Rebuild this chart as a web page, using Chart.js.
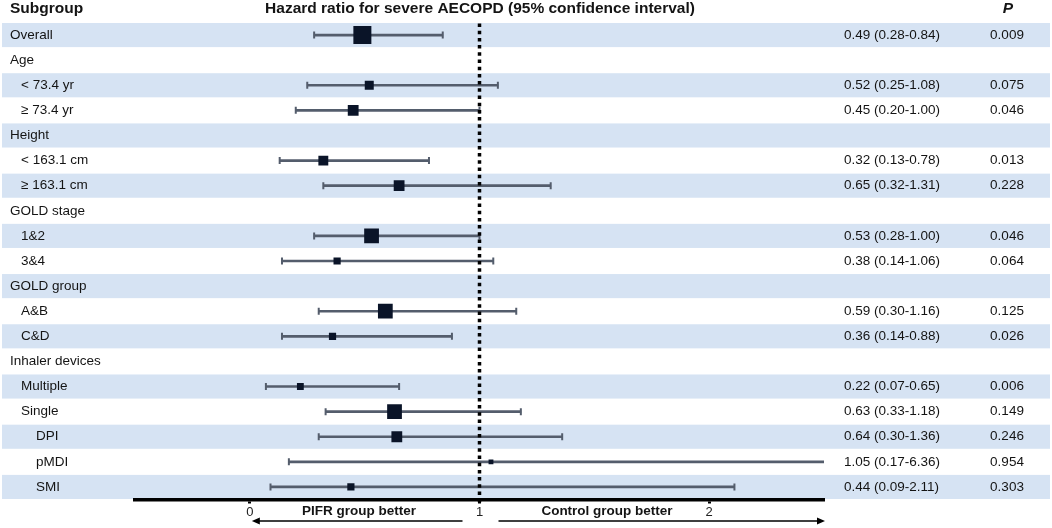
<!DOCTYPE html>
<html>
<head>
<meta charset="utf-8">
<script src="https://cdn.jsdelivr.net/npm/chart.js@4.4.1/dist/chart.umd.min.js"></script>
<style>
  html, body { margin: 0; padding: 0; background: #fff; }
  #wrap { width: 1052px; height: 528px; position: relative; }
</style>
</head>
<body>
<div id="wrap"><canvas id="forest"></canvas></div>
<script>
// --- data ---
const rows = ['Overall', 'Age', '< 73.4 yr', '≥ 73.4 yr', 'Height', '< 163.1 cm', '≥ 163.1 cm',
  'GOLD stage', '1&2', '3&4', 'GOLD group', 'A&B', 'C&D', 'Inhaler devices',
  'Multiple', 'Single', 'DPI', 'pMDI', 'SMI'];
const indentLevel = [0, 0, 1, 1, 0, 1, 1, 0, 1, 1, 0, 1, 1, 0, 1, 1, 2, 2, 2];
const hazardRatio = [0.49, null, 0.52, 0.45, null, 0.32, 0.65, null, 0.53, 0.38, null, 0.59, 0.36, null, 0.22, 0.63, 0.64, 1.05, 0.44];
const ciLower     = [0.28, null, 0.25, 0.20, null, 0.13, 0.32, null, 0.28, 0.14, null, 0.30, 0.14, null, 0.07, 0.33, 0.30, 0.17, 0.09];
const ciUpper     = [0.84, null, 1.08, 1.00, null, 0.78, 1.31, null, 1.00, 1.06, null, 1.16, 0.88, null, 0.65, 1.18, 1.36, 6.36, 2.11];
const pValues     = ['0.009', '', '0.075', '0.046', '', '0.013', '0.228', '', '0.046', '0.064', '', '0.125', '0.026', '', '0.006', '0.149', '0.246', '0.954', '0.303'];
// relative study weight (drives square size)
const weight      = [1.0, null, 0.5, 0.6, null, 0.55, 0.6, null, 0.82, 0.4, null, 0.82, 0.4, null, 0.38, 0.82, 0.6, 0.27, 0.4];
const axisTicks = [0, 1, 2];
const refValue = 1;
const leftNote = 'PIFR group better';
const rightNote = 'Control group better';

const FONT = '"Liberation Sans", Arial, Helvetica, sans-serif';
Chart.defaults.font.family = FONT;

const BAND = '#d6e3f3';
const BOX = '#0a1428';
const WHISKER = '#545d6c';
const TEXT = '#141414';

const fmt = v => v.toFixed(2);

const ciData = rows.map((r, i) => hazardRatio[i] == null ? null : [ciLower[i], ciUpper[i]]);
const capData = [];
rows.forEach((r, i) => {
  if (hazardRatio[i] == null) return;
  capData.push({ x: ciLower[i], y: r });
  capData.push({ x: ciUpper[i], y: r });
});
const boxData = [];
const boxRadius = [];
rows.forEach((r, i) => {
  if (hazardRatio[i] == null) return;
  boxData.push({ x: hazardRatio[i], y: r });
  boxRadius.push(18 * weight[i] / Math.SQRT2);
});

// alternating row bands, full width
const bandPlugin = {
  id: 'bands',
  beforeDraw(chart) {
    const { ctx, scales: { y }, chartArea } = chart;
    const step = chartArea.height / rows.length;
    ctx.save();
    ctx.fillStyle = BAND;
    rows.forEach((r, i) => {
      if (i % 2) return;
      const cy = y.getPixelForValue(i);
      ctx.fillRect(2, cy - step / 2 + 0.5, chart.width - 4, step - 1);
    });
    ctx.restore();
  }
};

// dotted reference line at HR = 1
const refPlugin = {
  id: 'refLine',
  afterDatasetsDraw(chart) {
    const { ctx, scales: { x }, chartArea } = chart;
    const px = x.getPixelForValue(refValue);
    ctx.save();
    ctx.strokeStyle = '#000';
    ctx.lineWidth = 3.5;
    ctx.setLineDash([3.5, 3.7]);
    ctx.beginPath();
    ctx.moveTo(px, chartArea.top + 1);
    ctx.lineTo(px, chartArea.bottom + 4);
    ctx.stroke();
    ctx.restore();
  }
};

// table text, headers and bottom arrows
const textPlugin = {
  id: 'tableText',
  afterDraw(chart) {
    const { ctx, scales: { x, y }, chartArea } = chart;
    const indentPx = [10, 21, 36];
    ctx.save();
    ctx.fillStyle = TEXT;
    ctx.textBaseline = 'middle';

    ctx.font = 'bold 15.5px ' + FONT;
    ctx.textAlign = 'left';
    ctx.fillText('Subgroup', 10, 9);
    ctx.textAlign = 'center';
    ctx.fillText('Hazard ratio for severe AECOPD (95% confidence interval)', 480, 9);
    ctx.font = 'italic bold 15.5px ' + FONT;
    ctx.fillText('P', 1008, 9);

    ctx.font = '13.5px ' + FONT;
    rows.forEach((r, i) => {
      const cy = y.getPixelForValue(i);
      ctx.textAlign = 'left';
      ctx.fillText(r, indentPx[indentLevel[i]], cy);
      if (hazardRatio[i] != null) {
        ctx.fillText(fmt(hazardRatio[i]) + ' (' + fmt(ciLower[i]) + '-' + fmt(ciUpper[i]) + ')', 844, cy);
        ctx.textAlign = 'center';
        ctx.fillText(pValues[i], 1007, cy);
      }
    });

    // direction arrows under the axis
    const ref = x.getPixelForValue(refValue);
    const zero = x.getPixelForValue(0);
    const ay = 521;
    ctx.strokeStyle = '#000';
    ctx.fillStyle = '#000';
    ctx.lineWidth = 1.5;
    ctx.beginPath();
    ctx.moveTo(ref - 17, ay);
    ctx.lineTo(zero + 6, ay);
    ctx.moveTo(ref + 19, ay);
    ctx.lineTo(chartArea.right - 6, ay);
    ctx.stroke();
    ctx.beginPath();
    ctx.moveTo(zero + 2, ay);
    ctx.lineTo(zero + 10, ay - 3.5);
    ctx.lineTo(zero + 10, ay + 3.5);
    ctx.closePath();
    ctx.moveTo(chartArea.right + 1, ay);
    ctx.lineTo(chartArea.right - 7, ay - 3.5);
    ctx.lineTo(chartArea.right - 7, ay + 3.5);
    ctx.closePath();
    ctx.fill();

    ctx.fillStyle = TEXT;
    ctx.font = 'bold 13.5px ' + FONT;
    ctx.textAlign = 'center';
    ctx.fillText(leftNote, 359, 511);
    ctx.fillText(rightNote, 607, 511);
    ctx.restore();
  }
};

new Chart(document.getElementById('forest'), {
  type: 'bar',
  data: {
    labels: rows,
    datasets: [
      {
        type: 'bar',
        data: ciData,
        indexAxis: 'y',
        backgroundColor: WHISKER,
        barThickness: 2,
        grouped: false,
        clip: 0,
        order: 3
      },
      {
        type: 'scatter',
        data: capData,
        pointStyle: 'line',
        rotation: 90,
        pointRadius: 3.5,
        borderColor: WHISKER,
        borderWidth: 2,
        clip: 0,
        order: 2
      },
      {
        type: 'scatter',
        data: boxData,
        pointStyle: 'rect',
        pointRadius: boxRadius,
        backgroundColor: BOX,
        borderWidth: 0,
        order: 1
      }
    ]
  },
  options: {
    responsive: true,
    maintainAspectRatio: false,
    animation: false,
    events: [],
    indexAxis: 'y',
    layout: { padding: { left: 135, right: 228, top: 22.5, bottom: 0 } },
    plugins: {
      legend: { display: false },
      tooltip: { enabled: false }
    },
    scales: {
      x: {
        type: 'linear',
        min: -0.5,
        max: 2.5,
        afterBuildTicks: scale => { scale.ticks = axisTicks.map(v => ({ value: v })); },
        afterFit: scale => { scale.height = 28.5; },
        border: { display: true, color: '#000', width: 3.5 },
        grid: { display: true, drawOnChartArea: false, drawTicks: true, tickLength: 4, tickWidth: 3, tickColor: '#000' },
        ticks: { color: '#222', font: { size: 13 }, padding: 1, maxRotation: 0 }
      },
      y: {
        type: 'category',
        labels: rows,
        offset: true,
        display: false,
        grid: { display: false }
      }
    }
  },
  plugins: [bandPlugin, refPlugin, textPlugin]
});
</script>
</body>
</html>
